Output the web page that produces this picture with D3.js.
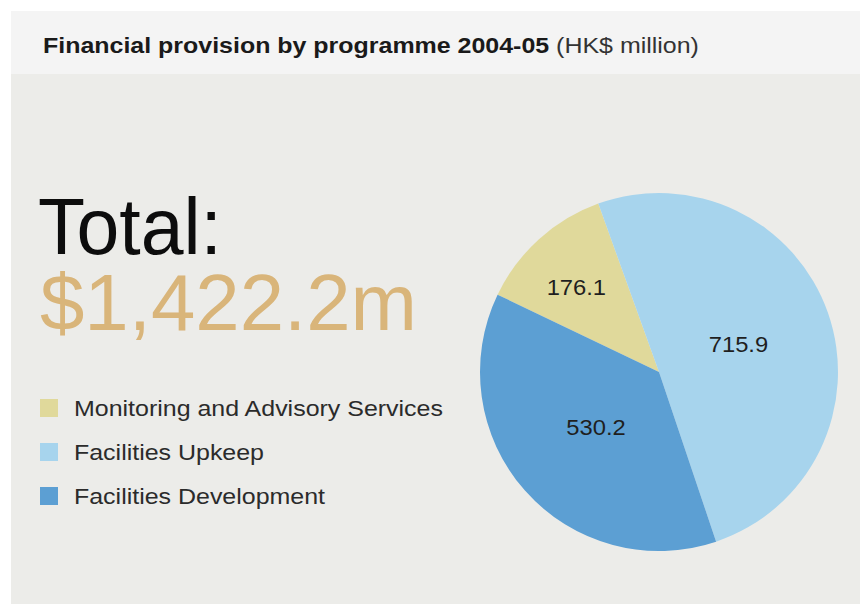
<!DOCTYPE html>
<html>
<head>
<meta charset="utf-8">
<script src="https://cdn.jsdelivr.net/npm/d3@7"></script>
<style>
  html, body { margin: 0; padding: 0; background: #ffffff; }
  svg { display: block; }
</style>
</head>
<body>
<svg id="chart" width="860" height="604"></svg>
<script>
// Programme budget, 2004-05 (HK$ million)
const programmes = ["Monitoring and Advisory Services", "Facilities Upkeep", "Facilities Development"];
const provision = [176.1, 715.9, 530.2];
const colours = ["#e0d99b", "#a7d4ed", "#5c9fd3"];
const titleBold = "Financial provision by programme 2004-05";
const titleUnit = "(HK$ million)";
const totalLabel = "Total:";
const totalValue = "$1,422.2m";

const FONT = "Liberation Sans, Arial, sans-serif";
const STRETCH = 1.135; // wide sans look for title and legend

const svg = d3.select("#chart");

// panel background and header band
svg.append("rect").attr("x", 11).attr("y", 11).attr("width", 849).attr("height", 593).attr("fill", "#ecece9");
svg.append("rect").attr("x", 11).attr("y", 11).attr("width", 849).attr("height", 63).attr("fill", "#f4f4f4");

// title
const title = svg.append("text")
  .attr("transform", `translate(43,53) scale(${STRETCH},1)`)
  .attr("font-family", FONT)
  .attr("font-size", 22);
title.append("tspan").attr("font-weight", "bold").attr("fill", "#1a1a1a").text(titleBold + " ");
title.append("tspan").attr("fill", "#333").text(titleUnit);

// headline total
svg.append("text")
  .attr("x", 38).attr("y", 254)
  .attr("font-family", FONT)
  .attr("font-size", 80)
  .attr("fill", "#0d0d0d")
  .attr("textLength", 184).attr("lengthAdjust", "spacingAndGlyphs")
  .text(totalLabel);
svg.append("text")
  .attr("x", 40).attr("y", 330)
  .attr("font-family", FONT)
  .attr("font-size", 80)
  .attr("fill", "#d9b57a")
  .attr("textLength", 377).attr("lengthAdjust", "spacingAndGlyphs")
  .text(totalValue);

// legend
const legend = svg.append("g").attr("transform", "translate(40,399)");
const rows = legend.selectAll("g").data(programmes).join("g")
  .attr("transform", (d, i) => `translate(0,${i * 44})`);
rows.append("rect").attr("width", 18).attr("height", 18).attr("fill", (d, i) => colours[i]);
rows.append("text")
  .attr("transform", `translate(34,17) scale(${STRETCH},1)`)
  .attr("font-family", FONT)
  .attr("font-size", 22)
  .attr("fill", "#2b2b2b")
  .text(d => d);

// pie
const cx = 659, cy = 372, R = 179;
const pie = d3.pie().sort(null).startAngle(-64.4 * Math.PI / 180).endAngle((360 - 64.4) * Math.PI / 180);
const arcs = pie(provision);
const arc = d3.arc().innerRadius(0).outerRadius(R);
const g = svg.append("g").attr("transform", `translate(${cx},${cy})`);
g.selectAll("path").data(arcs).join("path")
  .attr("d", arc)
  .attr("fill", (d, i) => colours[i]);

// value labels: narrow slices place their label further out
g.selectAll("text").data(arcs).join("text")
  .attr("transform", d => {
    const r = (d.endAngle - d.startAngle) < 1 ? R * 0.66 : R * 0.47;
    const a = (d.startAngle + d.endAngle) / 2 - ((d.endAngle - d.startAngle) < 1 ? 0.04 : 0);
    return `translate(${r * Math.sin(a)},${-r * Math.cos(a)}) scale(1.08,1)`;
  })
  .attr("text-anchor", "middle")
  .attr("dy", "0.35em")
  .attr("font-family", FONT)
  .attr("font-size", 22)
  .attr("fill", "#1f1f1f")
  .text(d => d3.format(".1f")(d.data));
</script>
</body>
</html>
